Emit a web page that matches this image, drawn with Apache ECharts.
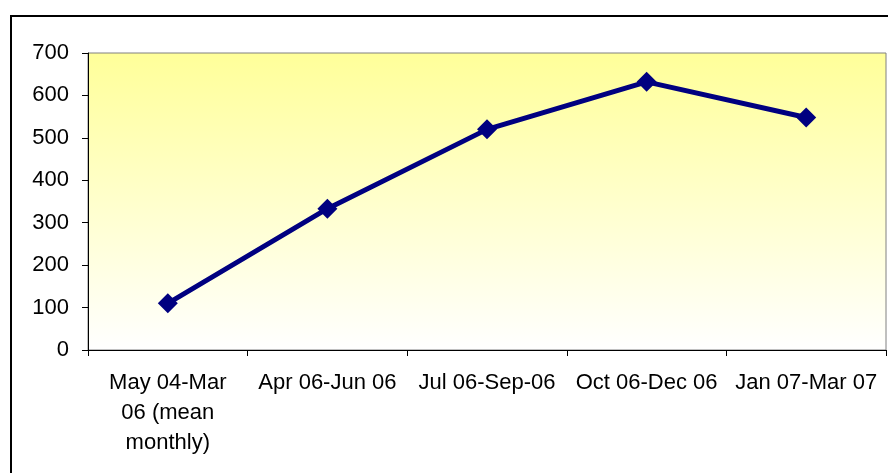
<!DOCTYPE html>
<html>
<head>
<meta charset="utf-8">
<script src="https://cdn.jsdelivr.net/npm/echarts@6/dist/echarts.min.js"></script>
<style>
  html, body { margin: 0; padding: 0; background: #fff; }
  #chart { width: 888px; height: 473px; }
</style>
</head>
<body>
<div id="chart"></div>
<script>
// periods on the x axis
var categories = [
  'May 04-Mar\n06 (mean\nmonthly)',
  'Apr 06-Jun 06',
  'Jul 06-Sep-06',
  'Oct 06-Dec 06',
  'Jan 07-Mar 07'
]
var values = [110, 333, 520, 632, 548]
var yMin = 0
var yMax = 700
var yStep = 100

var chart = echarts.init(document.getElementById('chart'))
chart.setOption({
  backgroundColor: '#fff',
  animation: false,
  textStyle: { fontFamily: '"Liberation Sans", Arial, sans-serif' },
  graphic: [{
    type: 'rect',
    shape: { x: 11, y: 16, width: 900, height: 500 },
    style: { fill: 'none', stroke: '#000', lineWidth: 2 },
    z: 100
  }],
  grid: {
    left: 88,
    top: 53,
    right: 2,
    bottom: 123,
    show: true,
    borderColor: '#808080',
    borderWidth: 1,
    backgroundColor: {
      type: 'linear', x: 0, y: 0, x2: 0, y2: 1,
      colorStops: [
        { offset: 0, color: '#ffff99' },
        { offset: 1, color: '#ffffff' }
      ]
    }
  },
  xAxis: {
    type: 'category',
    data: categories,
    boundaryGap: true,
    axisLine: { lineStyle: { color: '#000', width: 1 } },
    axisTick: { show: true, length: 6, inside: false, lineStyle: { color: '#000' } },
    axisLabel: {
      color: '#000',
      fontSize: 22,
      lineHeight: 30,
      margin: 18,
      interval: 0
    },
    splitLine: { show: false }
  },
  yAxis: {
    type: 'value',
    min: yMin,
    max: yMax,
    interval: yStep,
    axisLine: { show: true, lineStyle: { color: '#000', width: 1 } },
    axisTick: { show: true, length: 6, lineStyle: { color: '#000' } },
    axisLabel: { color: '#000', fontSize: 22, margin: 19 },
    splitLine: { show: false }
  },
  series: [{
    type: 'line',
    data: values,
    symbol: 'diamond',
    symbolSize: 20,
    lineStyle: { color: '#000080', width: 5 },
    itemStyle: { color: '#000080' }
  }]
})
</script>
</body>
</html>
